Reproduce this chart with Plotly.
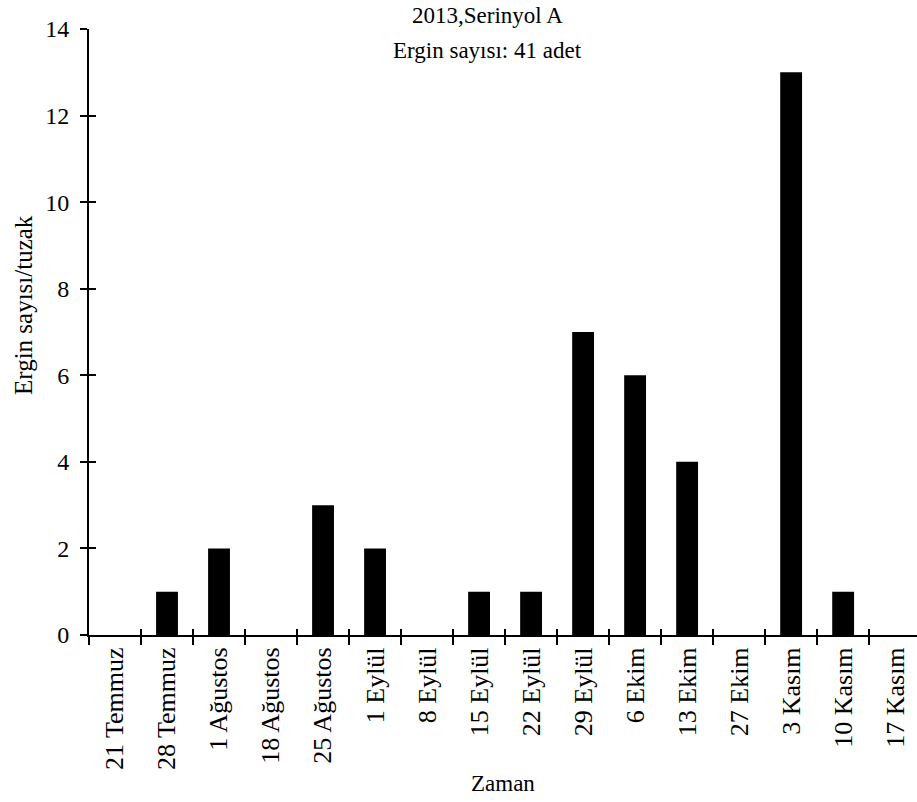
import plotly.graph_objects as go

# Sampling dates and adult counts per trap
dates = ["21 Temmuz", "28 Temmuz", "1 Ağustos", "18 Ağustos", "25 Ağustos",
         "1 Eylül", "8 Eylül", "15 Eylül", "22 Eylül", "29 Eylül",
         "6 Ekim", "13 Ekim", "27 Ekim", "3 Kasım", "10 Kasım", "17 Kasım"]
counts = [0, 1, 2, 0, 3, 2, 0, 1, 1, 7, 6, 4, 0, 13, 1, 0]
y_ticks = [0, 2, 4, 6, 8, 10, 12, 14]

title_line1 = "2013,Serinyol A"
title_line2 = "Ergin sayısı: 41 adet"
y_title = "Ergin sayısı/tuzak"
x_title = "Zaman"

FONT = '"Times New Roman", "Liberation Serif", "DejaVu Serif", serif'
W, H = 917, 802
ML, MR, MT, MB = 89, 0, 29, 167
PW, PH = W - ML - MR, H - MT - MB


def px_x(p):
    return (p - ML) / PW


def px_y(p):
    return (H - MB - p) / PH


x_range = [-0.5, 15.42]
y_range = [0, 14]

fig = go.Figure()
fig.add_trace(go.Bar(
    x=dates, y=counts,
    marker=dict(color="black", line=dict(width=0)),
    hoverinfo="x+y",
))
# invisible companion trace carrying the inner half of the crossing ticks
fig.add_trace(go.Scatter(
    x=dates, y=counts, xaxis="x2", yaxis="y2", mode="markers",
    marker=dict(opacity=0), hoverinfo="skip", showlegend=False,
))

axis_common = dict(linecolor="black", tickcolor="black", tickwidth=1.5,
                   showgrid=False, zeroline=False)

fig.update_layout(
    width=W, height=H,
    margin=dict(l=ML, r=MR, t=MT, b=MB),
    paper_bgcolor="white", plot_bgcolor="white",
    showlegend=False,
    bargap=0.58,
    font=dict(family=FONT, color="black", size=23),
    xaxis=dict(
        type="category", categoryorder="array", categoryarray=dates,
        range=x_range, tickson="boundaries", ticks="outside", ticklen=8,
        showline=True, linewidth=2, tickangle=-90,
        tickfont=dict(family=FONT, size=26, color="black"),
        **axis_common,
    ),
    yaxis=dict(
        range=y_range, tickvals=y_ticks, ticks="outside", ticklen=7,
        showline=True, linewidth=2, ticklabelstandoff=6,
        tickfont=dict(family=FONT, size=24, color="black"),
        **axis_common,
    ),
    xaxis2=dict(
        type="category", categoryorder="array", categoryarray=dates,
        range=x_range, tickson="boundaries", ticks="inside", ticklen=6,
        overlaying="x", anchor="y2", showticklabels=False, showline=False,
        **axis_common,
    ),
    yaxis2=dict(
        range=y_range, tickvals=y_ticks, ticks="inside", ticklen=7,
        overlaying="y", anchor="x2", side="left", showticklabels=False,
        showline=False, **axis_common,
    ),
    annotations=[
        dict(text=title_line1, xref="paper", yref="paper",
             x=px_x(487), y=px_y(16), xanchor="center", yanchor="middle",
             showarrow=False, font=dict(family=FONT, size=23)),
        dict(text=title_line2, xref="paper", yref="paper",
             x=px_x(487), y=px_y(50), xanchor="center", yanchor="middle",
             showarrow=False, font=dict(family=FONT, size=23)),
        dict(text=y_title, xref="paper", yref="paper", textangle=-90,
             x=px_x(23), y=px_y(305), xanchor="center", yanchor="middle",
             showarrow=False, font=dict(family=FONT, size=25)),
        dict(text=x_title, xref="paper", yref="paper",
             x=px_x(503), y=px_y(783), xanchor="center", yanchor="middle",
             showarrow=False, font=dict(family=FONT, size=23)),
    ],
)

fig.write_html("out.html")
